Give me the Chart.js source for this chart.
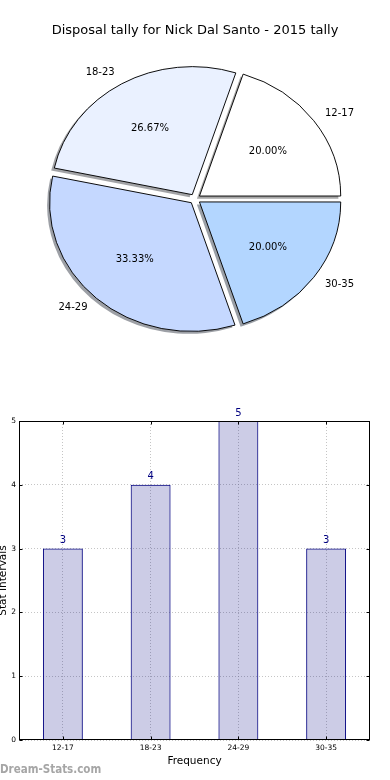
<!DOCTYPE html>
<html><head><meta charset="utf-8">
<script src="https://cdn.jsdelivr.net/npm/chart.js@4"></script>
<style>
html,body{margin:0;padding:0;background:#fff;width:390px;height:780px;overflow:hidden;}
canvas{display:block;}
#pieWrap{position:absolute;left:0;top:0;width:390px;height:356px;}
#barWrap{position:absolute;left:0;top:380px;width:390px;height:400px;}
#wm{position:absolute;left:0;top:762px;font:bold 11.5px "DejaVu Sans Condensed","DejaVu Sans",sans-serif;color:#a6a6a6;white-space:nowrap;}
</style></head><body>
<div id="pieWrap"><canvas id="pie" width="390" height="356"></canvas></div>
<div id="barWrap"><canvas id="bar" width="390" height="400"></canvas></div>
<div id="wm">Dream-Stats.com</div>
<script>
// ---- data ----
const chartTitle = 'Disposal tally for Nick Dal Santo - 2015 tally';
const categories = ['12-17', '18-23', '24-29', '30-35'];
const tallies = [3, 4, 5, 3];
const yTicks = [0, 1, 2, 3, 4, 5];
const xAxisTitle = 'Frequency';
const yAxisTitle = 'Stat Intervals';

// ---- styles ----
const sliceColors = ['#ffffff', '#eaf1ff', '#c5d8ff', '#b3d6ff'];
const FONT = '"DejaVu Sans", sans-serif';
const EXPLODE = 5;          // px explode in circle space
const SX = 141 / 128;       // horizontal stretch (non-equal aspect pie)
const SHADOW = [-2.6, 2.6];

function shadowColor(hex) {
  const r = parseInt(hex.slice(1, 3), 16), g = parseInt(hex.slice(3, 5), 16), b = parseInt(hex.slice(5, 7), 16);
  return `rgba(${Math.round(r * 0.3)},${Math.round(g * 0.3)},${Math.round(b * 0.3)},0.5)`;
}

// Chart.js goes clockwise; the reference goes counter-clockwise from 3 o'clock
const order = categories.map((_, i) => i).reverse();
const total = tallies.reduce((a, b) => a + b, 0);

const piePlugin = {
  id: 'pieExtras',
  beforeDatasetsDraw(chart) {
    const ctx = chart.ctx;
    const meta = chart.getDatasetMeta(0);
    const el0 = meta.data[0];
    const cx = el0.x, cy = el0.y;
    ctx.save();
    ctx.translate(cx, cy); ctx.scale(SX, 1); ctx.translate(-cx, -cy);
    meta.data.forEach((el, k) => {
      const h = (el.startAngle + el.endAngle) / 2;
      const ox = el.x + Math.cos(h) * EXPLODE + SHADOW[0] / SX;
      const oy = el.y + Math.sin(h) * EXPLODE + SHADOW[1];
      ctx.beginPath();
      ctx.moveTo(ox, oy);
      ctx.arc(ox, oy, el.outerRadius + 0.5, el.startAngle, el.endAngle);
      ctx.closePath();
      ctx.fillStyle = shadowColor(sliceColors[order[k]]);
      ctx.fill();
    });
  },
  afterDatasetsDraw(chart) {
    const ctx = chart.ctx;
    ctx.restore();
    const meta = chart.getDatasetMeta(0);
    ctx.save();
    ctx.fillStyle = '#000';
    ctx.font = '10px ' + FONT;
    ctx.textBaseline = 'middle';
    meta.data.forEach((el, k) => {
      const idx = order[k];
      const h = (el.startAngle + el.endAngle) / 2;
      const R = el.outerRadius;
      const ex = el.x + Math.cos(h) * EXPLODE * SX;
      const ey = el.y + Math.sin(h) * EXPLODE;
      const pct = (tallies[idx] / total * 100).toFixed(2) + '%';
      ctx.textAlign = 'center';
      ctx.fillText(pct, ex + 0.6 * R * Math.cos(h) * SX, ey + 0.6 * R * Math.sin(h));
      ctx.textAlign = Math.cos(h) >= 0 ? 'left' : 'right';
      ctx.fillText(categories[idx], ex + 1.1 * R * Math.cos(h) * SX, ey + 1.1 * R * Math.sin(h));
    });
    ctx.restore();
  }
};

new Chart(document.getElementById('pie'), {
  type: 'pie',
  data: {
    labels: order.map(i => categories[i]),
    datasets: [{
      data: order.map(i => tallies[i]),
      backgroundColor: order.map(i => sliceColors[i]),
      borderColor: '#000',
      borderWidth: 0.9,
      offset: EXPLODE * 4
    }]
  },
  options: {
    responsive: false,
    animation: false,
    rotation: 90,
    radius: 128,
    layout: { padding: { left: 0 } },
    plugins: {
      legend: { display: false },
      tooltip: { enabled: false },
      title: {
        display: true, text: chartTitle, color: '#000',
        font: { family: FONT, size: 13, weight: 'normal', lineHeight: 1.2 },
        padding: { top: 23, bottom: 3.4 }
      }
    }
  },
  plugins: [piePlugin]
});

// ---- bar chart ----
const barPlugin = {
  id: 'barExtras',
  afterDatasetsDraw(chart) {
    const ctx = chart.ctx;
    const meta = chart.getDatasetMeta(0);
    ctx.save();
    ctx.fillStyle = '#000080';
    ctx.font = '10px ' + FONT;
    ctx.textAlign = 'center';
    ctx.textBaseline = 'bottom';
    meta.data.forEach((bar, i) => {
      ctx.fillText(String(tallies[i]), bar.x, bar.y - 3);
    });
    ctx.restore();
  },
  afterDraw(chart) {
    const ctx = chart.ctx;
    const a = chart.chartArea;
    ctx.save();
    ctx.strokeStyle = '#000';
    ctx.lineWidth = 1;
    const l = Math.round(a.left) + 0.5, t = Math.round(a.top) + 0.5;
    const r = Math.round(a.right) - 0.5, b = Math.round(a.bottom) - 0.5;
    ctx.strokeRect(l, t, r - l, b - t);
    const xs = chart.scales.x, ys = chart.scales.y;
    categories.forEach((c, i) => {
      const x = Math.round(xs.getPixelForTick(i)) + 0.5;
      ctx.beginPath(); ctx.moveTo(x, b); ctx.lineTo(x, b - 3); ctx.moveTo(x, t); ctx.lineTo(x, t + 3); ctx.stroke();
    });
    yTicks.forEach(v => {
      const y = Math.round(ys.getPixelForValue(v)) + 0.5;
      ctx.beginPath(); ctx.moveTo(l, y); ctx.lineTo(l + 3, y); ctx.moveTo(r, y); ctx.lineTo(r - 3, y); ctx.stroke();
    });
    ctx.restore();
  }
};

new Chart(document.getElementById('bar'), {
  type: 'bar',
  data: {
    labels: categories,
    datasets: [{
      data: tallies,
      backgroundColor: 'rgba(0,0,128,0.2)',
      borderColor: '#000080',
      borderWidth: 1,
      barPercentage: 0.455,
      categoryPercentage: 1
    }]
  },
  options: {
    responsive: false,
    animation: false,
    layout: { padding: { top: 41, right: 20, left: 0, bottom: 0 } },
    plugins: { legend: { display: false }, tooltip: { enabled: false } },
    scales: {
      x: {
        z: 1,
        grid: { offset: false, color: 'rgba(150,150,150,0.55)', lineWidth: 1, drawTicks: false },
        border: { display: false, dash: [1, 2] },
        ticks: { color: '#000', font: { family: FONT, size: 7.5 }, padding: 4, maxRotation: 0 },
        title: { display: true, text: xAxisTitle, color: '#000', font: { family: FONT, size: 10.5 }, padding: { top: 0, bottom: 12.4 } },
        afterFit(s) { s.height = 40; }
      },
      y: {
        z: 1,
        min: yTicks[0], max: yTicks[yTicks.length - 1],
        afterBuildTicks(s) { s.ticks = yTicks.map(v => ({ value: v })); },
        grid: { color: 'rgba(150,150,150,0.55)', lineWidth: 1, drawTicks: false },
        border: { display: false, dash: [1, 2] },
        ticks: { color: '#000', font: { family: FONT, size: 7.5 }, padding: 3 },
        title: { display: true, text: yAxisTitle, color: '#000', font: { family: FONT, size: 10.5 }, padding: { top: -2.8, bottom: 0 } },
        afterFit(s) { s.width = 19; }
      }
    }
  },
  plugins: [barPlugin]
});
</script>
</body></html>
